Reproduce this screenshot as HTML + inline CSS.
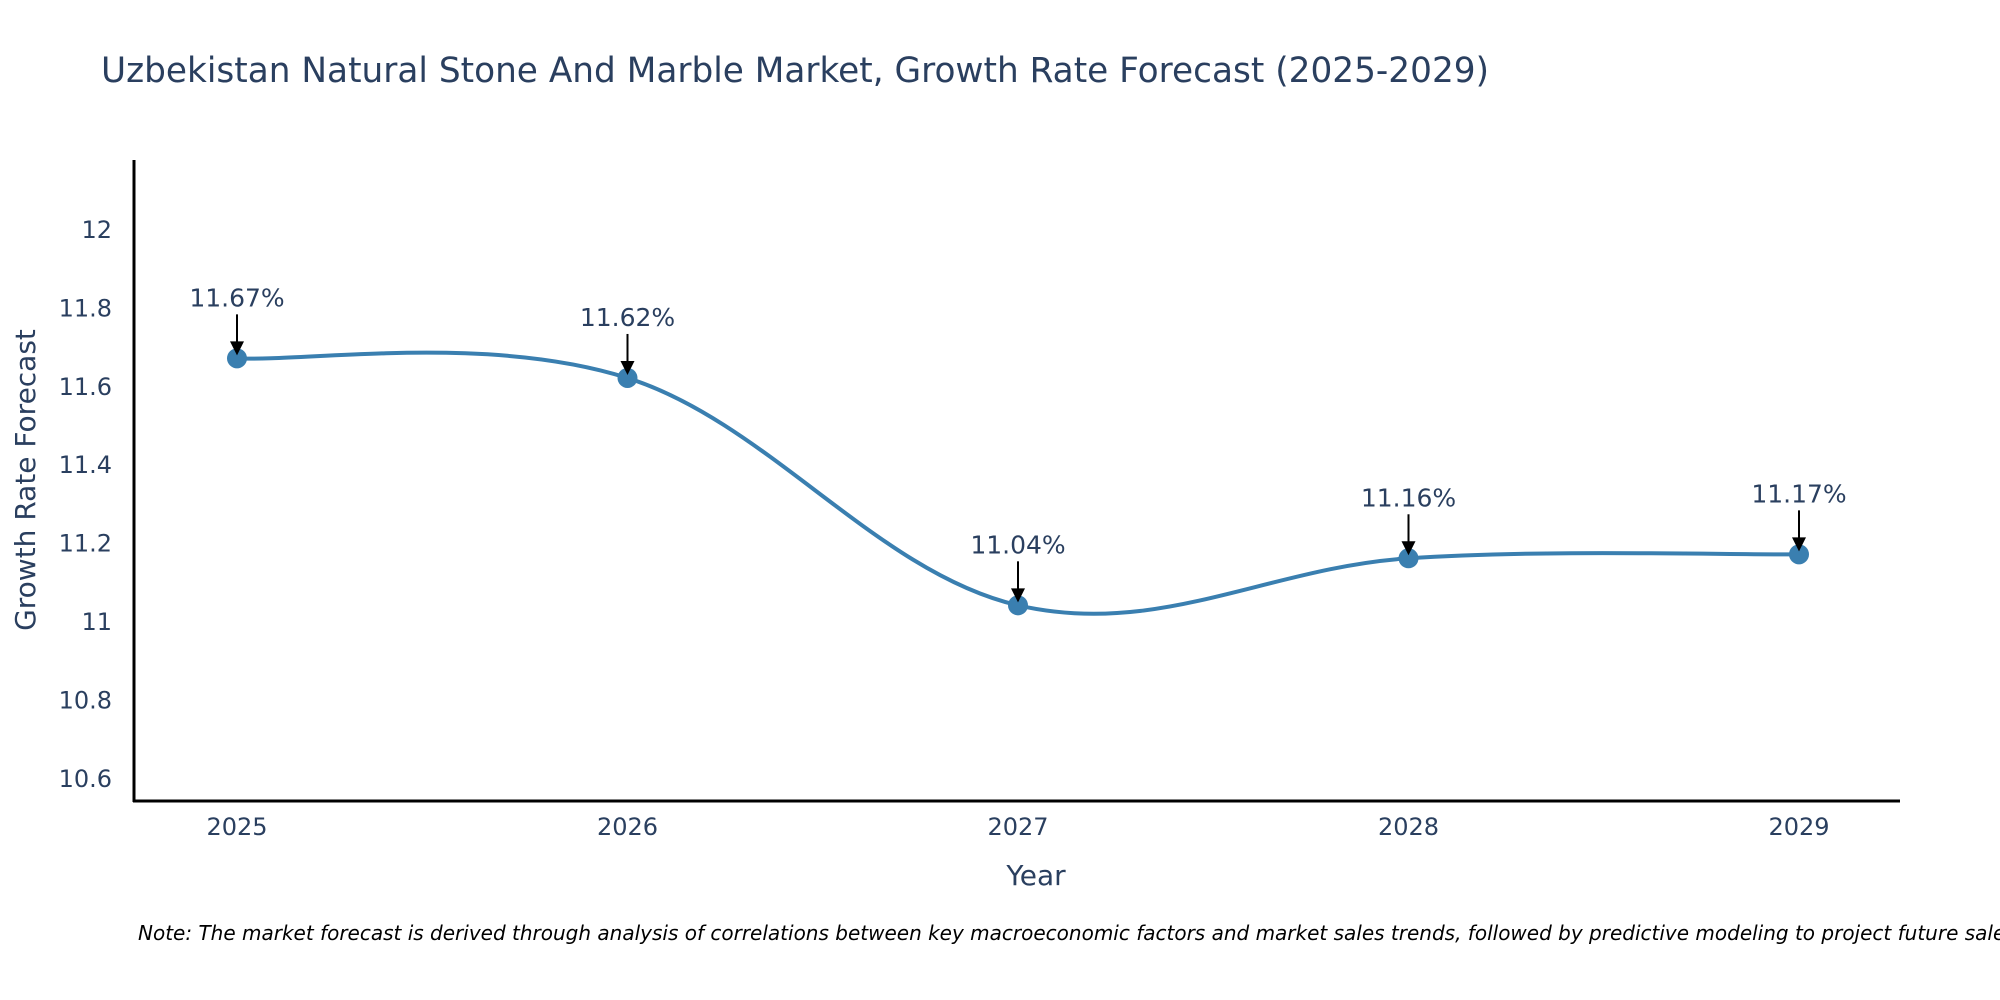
<!DOCTYPE html>
<html><head><meta charset="utf-8"><style>
html,body{margin:0;padding:0;background:#fff;}
svg{display:block;font-family:"DejaVu Sans","Liberation Sans",sans-serif;}
</style></head><body>
<svg id="chart" width="2000" height="1000" viewBox="0 0 2000 1000">
<text x="101" y="82" font-size="35" fill="#2a3f5f" textLength="1388" lengthAdjust="spacingAndGlyphs">Uzbekistan Natural Stone And Marble Market, Growth Rate Forecast (2025-2029)</text>
<g id="yticks"></g>
<g id="xticks"></g>
<line x1="134" y1="160" x2="134" y2="802" stroke="#000" stroke-width="3"/>
<line x1="133" y1="801" x2="1900" y2="801" stroke="#000" stroke-width="3"/>
<path id="line" fill="none" stroke="#3a7fb0" stroke-width="4"/>
<g id="points"></g>
<g id="annots"></g>
<text x="1036" y="885" font-size="28" fill="#2a3f5f" text-anchor="middle">Year</text>
<text transform="translate(35,480) rotate(-90)" font-size="28" fill="#2a3f5f" text-anchor="middle">Growth Rate Forecast</text>
<text x="138" y="940" font-size="20" font-style="italic" fill="#000">Note: The market forecast is derived through analysis of correlations between key macroeconomic factors and market sales trends, followed by predictive modeling to project future sales.</text>
</svg>
<script>
const years = [2025, 2026, 2027, 2028, 2029];
const values = [11.67, 11.62, 11.04, 11.16, 11.17];
const labels = ["11.67%", "11.62%", "11.04%", "11.16%", "11.17%"];
const yTicks = [10.6, 10.8, 11, 11.2, 11.4, 11.6, 11.8, 12];
const yTickLabels = ["10.6", "10.8", "11", "11.2", "11.4", "11.6", "11.8", "12"];

const NS = "http://www.w3.org/2000/svg";
function xScale(yr){ return 237 + (yr - 2025) * 390.5; }
function yScale(v){ return 621 - (v - 11) * 392; }
function mk(tag, attrs, parent){ const e = document.createElementNS(NS, tag); for (const k in attrs) e.setAttribute(k, attrs[k]); parent.appendChild(e); return e; }

const yt = document.getElementById('yticks');
yTicks.forEach((v, i) => {
  const t = mk('text', {x: 112, y: yScale(v) + 9, 'font-size': 24, fill: '#2a3f5f', 'text-anchor': 'end'}, yt);
  
  
  t.textContent = yTickLabels[i];
});
const xt = document.getElementById('xticks');
years.forEach(yr => {
  const t = mk('text', {x: xScale(yr), y: 835, 'font-size': 24, fill: '#2a3f5f', 'text-anchor': 'middle'}, xt);
  
  
  t.textContent = String(yr);
});

const pts = years.map((yr, i) => [xScale(yr), yScale(values[i])]);
let d = 'M' + pts[0][0] + ',' + pts[0][1];
const s = 0.18;
for (let i = 0; i < pts.length - 1; i++) {
  const p0 = pts[Math.max(0, i - 1)], p1 = pts[i], p2 = pts[i + 1], p3 = pts[Math.min(pts.length - 1, i + 2)];
  const c1 = [p1[0] + (p2[0] - p0[0]) * s, p1[1] + (p2[1] - p0[1]) * s];
  const c2 = [p2[0] - (p3[0] - p1[0]) * s, p2[1] - (p3[1] - p1[1]) * s];
  d += ' C' + c1.join(',') + ' ' + c2.join(',') + ' ' + p2.join(',');
}
document.getElementById('line').setAttribute('d', d);

const pg = document.getElementById('points');
const ag = document.getElementById('annots');
pts.forEach((p, i) => {
  const c = mk('circle', {cx: p[0], cy: p[1], r: 10, fill: '#3a7fb0'}, pg);
  
  
  const ln = mk('line', {x1: p[0], y1: p[1] - 44, x2: p[0], y2: p[1] - 16, stroke: '#000', 'stroke-width': 2}, ag);
  
  
  const hd = mk('path', {d: 'M' + (p[0] - 7) + ',' + (p[1] - 17) + ' L' + (p[0] + 7) + ',' + (p[1] - 17) + ' L' + p[0] + ',' + (p[1] - 3) + ' Z', fill: '#000'}, ag);
  
  
  const t = mk('text', {x: p[0], y: p[1] - 52, 'font-size': 25, fill: '#2a3f5f', 'text-anchor': 'middle'}, ag);
  
  
  t.textContent = labels[i];
});
</script>
</body></html>
